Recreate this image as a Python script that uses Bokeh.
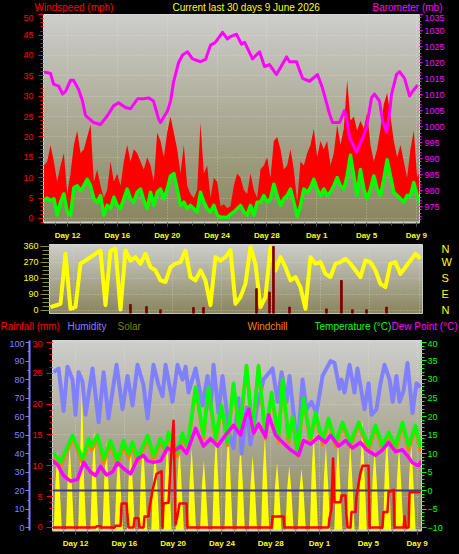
import numpy as np
from bokeh.plotting import figure
from bokeh.models import Range1d, LinearAxis, SingleIntervalTicker, FixedTicker
from bokeh.core.properties import value
from bokeh.embed import file_html
from bokeh.resources import INLINE

# ---------------- data ----------------
# x axis: days counted from 12 May 00:00
DAY_TICKS = [0, 4, 8, 12, 16, 20, 24, 28]
DAY_LABELS = ["Day 12", "Day 16", "Day 20", "Day 24", "Day 28", "Day 1", "Day 5", "Day 9"]
DAY_MINOR = list(range(-1, 29))

# wind speed (mph), regular sampling
WIND_START_DAY = -1.90
WIND_STEP_DAY = 0.2675
wind_gust = [13, 14, 18, 14, 9, 13, 16, 6, 11, 18, 21.5, 16, 17, 20, 23, 9, 12, 8, 5, 7,
             14, 9, 11, 8, 14, 18, 14, 17, 16, 14, 12, 15, 13, 9, 21, 19, 15, 21, 25, 21,
             17, 11, 18, 8, 6, 5, 7, 23.5, 11, 13, 5, 10, 9, 3, 3.5, 2.5,
             3, 8, 11, 10, 7, 6, 11, 7, 5, 12, 13, 15, 10, 19, 20, 17, 12, 13, 17, 12,
             4, 14, 13, 16, 18, 22, 15, 19, 17, 19, 13, 16, 23, 18, 22, 34, 24, 25, 21.6, 24,
             22, 26, 18, 14, 17, 22, 28, 30.8, 25, 19, 15, 18, 14, 10, 17, 21.6, 10, 12]
wind_avg = [4.4, 5, 4.4, 4.8, 0.8, 4, 6, 1.6, 0.8, 7.5, 8, 6.8, 8, 9.6, 8, 4.8, 4, 5.6, 0.8, 3.2,
            2.4, 5.2, 3.2, 2.4, 4.8, 7.2, 4.8, 4, 6.4, 7.2, 4.4, 2.4, 6.4, 3.2, 6.4, 7.2, 4.8, 7.2, 10.4, 11,
            7.2, 3.2, 4, 2.4, 3.2, 2.4, 1.6, 6.4, 4, 2.4, 1.6, 3.2, 0.8, 0.3, 0.3, 0.2,
            1, 1.6, 2.4, 3.2, 1.6, 0.8, 3.2, 0.8, 4, 4, 5.6, 4, 4.8, 8.4, 5.6, 3.2, 4.8, 5.6, 7.2, 4,
            0.5, 3.2, 7.2, 6.4, 7.5, 9.6, 7.2, 5.6, 7.2, 5.6, 6.4, 8, 10, 8, 7.2, 10.4, 15.5, 10.4, 5.6, 12,
            7.2, 4.8, 7.2, 10.4, 7.2, 5.6, 9.6, 14.4, 10.4, 6.4, 5.6, 4.8, 4, 5.6, 5.6, 8.8, 5.6, 3.6]

# barometer (mb)
baro_day = [-1.93, -1.77, -1.36, -1.12, -0.72, -0.40, -0.16, 0.24, 0.48, 0.88, 1.20, 1.44, 2.09, 2.65,
            3.21, 3.45, 3.69, 4.09, 4.65, 5.06, 5.62, 6.10, 6.50, 6.90, 7.30, 7.46, 8.03, 8.27, 8.51,
            8.91, 9.23, 9.63, 10.03, 10.67, 11.08, 11.48, 11.88, 12.44, 12.84, 13.00, 13.56, 13.96,
            14.21, 14.85, 15.41, 15.81, 16.21, 16.77, 17.58, 17.82, 18.38, 18.86, 19.42, 20.06, 20.47,
            21.03, 21.27, 21.83, 22.23, 22.39, 22.63, 23.19, 23.68, 24.00, 24.40, 24.64, 25.04, 25.28,
            25.60, 25.84, 26.00, 26.40, 26.65, 27.05, 27.45, 27.69, 28.09]
baro_mb = [1017, 1017, 1016.6, 1013.3, 1012.7, 1010.2, 1011, 1014.5, 1014.5, 1011.7, 1008, 1003.5, 1001.3, 1000.7,
           1003.5, 1005, 1006.5, 1007.5, 1006, 1005.6, 1008.7, 1008.7, 1009, 1008, 1002.5, 1001.3, 1005, 1008, 1014,
           1020, 1022.4, 1023.4, 1021.2, 1020.3, 1021, 1025.5, 1026.4, 1029.5, 1027.4, 1028, 1028.9, 1025.8,
           1026.4, 1021.2, 1023.4, 1018.8, 1019.4, 1016.3, 1021.8, 1020.3, 1020.3, 1015.1, 1014.2, 1016.3, 1012,
           1004, 1001.3, 1001.3, 1005, 1003, 996.7, 992, 996.4, 999.8, 1009, 1010.2, 1008, 1002,
           998.3, 1004, 1010, 1016.3, 1017.2, 1015.1, 1009.6, 1011, 1013]

# wind direction (degrees), regular sampling
DIR_START_DAY = -1.85
DIR_STEP_DAY = 0.4045
wind_dir = [19, 28, 37, 319, 9, 19, 263, 281, 300, 319, 337, 30, 337, 347, 5, 337, 281, 300, 263, 319,
            244, 226, 169, 160, 244, 263, 272, 337, 188, 169, 226, 169, 30, 300, 281, 300,
            340, 37, 75, 150, 356, 263, 19, 75, 356, 225, 300, 244, 169, 188, 131, 10, 300, 263, 272, 206,
            188, 263, 272, 291, 263, 226, 188, 281, 272, 226, 150, 131, 263, 272, 206, 244, 281, 319, 291]
# dark red bars in the direction panel
dirbar_day = [4.62, 5.92, 7.05, 9.72, 10.53, 14.82, 15.87, 16.19, 17.49, 20.48, 21.69, 22.58, 23.72, 25.34]
dirbar_val = [34, 22, 4, 17, 17, 122, 103, 360, 19, 9, 169, 4, 4, 19]
DIR_TICKS = [0, 90, 180, 270, 360]
DIR_NAMES = ["N", "E", "S", "W", "N"]

# solar: per day readings (morning, midday peak, afternoon), night = 0
solar_days = list(range(-2, 28))
SOLAR_HOURS = [5.0, 8.4, 12.5, 16.8, 21.1]
solar_am = [250, 270, 300, 280, 260, 240, 270, 280, 260, 290, 270, 260, 230, 300, 310, 280, 250, 300, 230, 220,
            210, 300, 270, 280, 270, 320, 270, 300, 270, 280]
solar_peak = [420, 447, 800, 537, 474, 421, 447, 474, 447, 474, 447, 432, 368, 500, 537, 447, 395, 500, 358, 342,
              326, 516, 447, 463, 463, 589, 432, 516, 447, 463]
solar_pm = [230, 240, 260, 250, 240, 220, 230, 260, 240, 250, 230, 240, 200, 270, 280, 260, 230, 260, 210, 200,
            200, 270, 250, 240, 250, 280, 250, 270, 240, 250]

# humidity (%)
hum_day = [-1.80, -1.39, -0.98, -0.66, -0.25, 0.00, 0.25, 0.57, 0.82, 1.39, 1.89, 2.30, 2.70, 3.36, 3.85, 4.26,
           4.67, 5.08, 5.57, 5.90, 6.39, 6.80, 7.13, 7.38, 7.95, 8.36, 8.77, 9.02, 9.26, 9.84, 10.41, 10.82,
           11.07, 11.31, 11.72, 12.05, 12.62, 12.95, 13.36, 13.61, 14.02, 14.34, 14.84, 15.41, 16.15, 16.56,
           16.89, 17.30, 17.54, 18.20, 18.61, 18.93, 19.34, 19.75, 20.25, 20.90, 21.23, 21.64, 21.80, 22.05,
           22.46, 22.87, 23.11, 23.69, 24.02, 24.26, 24.67, 25.00, 25.33, 25.74, 26.00, 26.31, 26.56, 26.89,
           27.21, 27.62, 27.95, 28.28]
hum_val = [84, 86, 63, 87, 80, 61, 84, 79, 61, 86, 57, 84, 59, 88, 64, 82, 66, 88, 77, 59, 88, 77, 71, 88, 68,
           88, 80, 87, 73, 86, 66, 82, 64, 88, 62, 82, 50, 43, 70, 40, 65, 45, 64, 80, 86, 68, 84, 68, 82, 42,
           80, 64, 68, 62, 82, 90, 89, 75, 80, 73, 88, 73, 86, 64, 78, 61, 64, 78, 88, 80, 68, 82, 68, 74, 89,
           62, 78, 76]

# temperature and windchill (deg C), same reading times
temp_day = [-1.89, -1.64, -1.23, -0.25, 0.57, 1.07, 1.31, 1.80, 2.30, 2.87, 3.44, 3.93, 4.34, 4.67, 5.08, 5.90,
            6.39, 6.97, 7.38, 7.62, 8.36, 8.77, 9.18, 9.84, 10.49, 10.90, 11.48, 11.97, 12.46, 12.95, 13.44,
            14.02, 14.51, 15.00, 15.57, 16.07, 16.64, 16.97, 17.46, 17.79, 18.20, 18.69, 19.26, 19.67, 20.25,
            20.74, 21.31, 21.89, 22.54, 23.20, 24.02, 24.59, 25.16, 25.66, 26.23, 26.80, 27.30, 27.87, 28.28]
temp_val = [10.3, 9.5, 7.6, 14.9, 8.6, 14, 12, 14.9, 8.6, 13.5, 8, 13.5, 10, 13.1, 8.6, 14.9, 9.5, 14, 11.4, 15.7,
            10.5, 15.5, 12, 28, 15, 28, 14, 23, 13, 29, 15.7, 33.8, 16, 33.8, 15, 26.5, 14, 30, 14, 20,
            10.3, 25, 14, 21, 13.5, 19.5, 13, 18.4, 13, 18.4, 12.2, 17.6, 12.2, 15.7, 12.2, 18.4, 12.2, 17.6, 11.5]
chill_val = [9.5, 8.5, 6.5, 14.2, 7.4, 13.2, 11, 14, 7.4, 12.6, 6.8, 12.6, 8.8, 12.2, 7.4, 14, 8.3, 13.2, 10.2, 15,
             9.3, 14.8, 11, 27.5, 14.2, 27.5, 13.2, 22.5, 12.2, 28.5, 15, 33.5, 15.4, 33.5, 14, 26, 13, 29.5, 13, 19.5,
             9.4, 24.5, 13, 20.4, 12.4, 19, 12, 17.8, 12, 17.8, 11, 17, 11, 15.2, 11, 17.8, 11, 17, 10.4]

# dew point (deg C)
dew_day = [-1.89, -1.48, -0.98, -0.41, 0.16, 0.66, 1.23, 1.64, 2.05, 2.54, 3.03, 3.44, 3.93, 4.51, 5.08, 5.57,
           5.90, 6.39, 6.97, 7.54, 8.03, 8.61, 9.10, 9.84, 10.49, 11.07, 11.64, 12.30, 12.95, 13.52, 13.93,
           14.20, 14.60, 15.00, 15.57, 15.82, 16.39, 16.97, 17.62, 18.28, 18.69, 19.26, 19.92, 20.49, 20.90,
           21.56, 22.13, 22.70, 23.36, 23.85, 24.59, 25.16, 25.66, 26.23, 26.80, 27.30, 27.62, 28.11, 28.36]
dew_val = [8, 7, 4, 2.5, 3, 7.6, 5, 4, 6.5, 4.2, 5, 7.5, 6, 4.5, 8.5, 9.5, 8, 7.6, 8, 11.5, 10.5, 12, 10, 16.8,
           12, 14, 12, 15, 17.6, 15, 20, 22, 15.5, 18, 14.5, 20.5, 15, 13, 11, 9.5, 13.5, 12.5, 14.5, 13, 14.9,
           12, 13.5, 11.5, 13, 11, 9.5, 11, 13, 10.5, 11, 9, 7.5, 6.7, 8]

# rainfall (mm)
rain_day = [-1.89, 1.64, 1.72, 2.05, 2.13, 3.20, 3.28, 3.69, 3.77, 4.18, 4.34, 4.75, 4.84, 5.16, 5.25, 5.57,
            5.66, 5.98, 6.07, 6.31, 6.64, 7.05, 7.13, 7.21, 7.62, 7.79, 8.03, 8.20, 8.36, 8.52, 9.10, 9.18,
            16.07, 16.15, 17.05, 17.13, 20.74, 20.82, 20.98, 21.11, 21.23, 21.72, 21.80, 22.13, 22.21, 22.30,
            22.54, 22.62, 22.95, 23.03, 23.34, 23.52, 24.02, 24.10, 25.16, 25.25, 25.57, 25.66, 26.07, 26.15,
            26.89, 26.97, 27.05, 27.30, 27.38, 28.11, 28.28]
rain_mm = [0, 0, 0.2, 0.2, 0, 0, 0.3, 0.3, 3.9, 3.9, 0, 0, 1.5, 1.5, 0, 0, 1.8, 1.8, 3.3, 6, 8.7, 9.1, 0, 3.9,
           4, 10, 17.3, 0.5, 1.9, 3.9, 3.9, 0, 0, 1.8, 1.8, 0, 0, 1.5, 3, 11.2, 4.1, 4.1, 5.2, 5.2, 2, 0, 0,
           2.5, 2.5, 5, 8.7, 10, 10, 0, 0, 2.5, 2.5, 5.7, 6.1, 0, 0, 1.8, 0, 0, 5.7, 5.7, 5.7]

# header texts
TOP_TITLES = ["Windspeed (mph)", "Current last 30 days 9 June 2026", "Barometer (mb)"]
TOP_COLORS = ["#ff0000", "#ffff00", "#ff00ff"]
LOW_TITLES = ["Rainfall (mm)", "Humidity", "Solar", "Windchill", "Temperature (°C)", "Dew Point (°C)"]
LOW_COLORS = ["#ff0000", "#8080ff", "#808000", "#ff8000", "#00ff00", "#ff00ff"]

# ---------------- styling helpers ----------------
FONT = "Liberation Sans"
W = 459


def gradient_image():
    n = 256
    top = np.array([206, 206, 204], dtype=float)
    bot = np.array([138, 134, 94], dtype=float)
    f = np.linspace(0.0, 1.0, n)[:, None]
    rgb = bot + (top - bot) * f
    img = np.zeros((n, 2), dtype=np.uint32)
    v = img.view(dtype=np.uint8).reshape((n, 2, 4))
    for c in range(3):
        v[:, :, c] = rgb[:, c:c + 1].astype(np.uint8)
    v[:, :, 3] = 255
    return img


GRAD = gradient_image()


def make_fig(h, xr, yr, left, right, top, bottom, **kw):
    p = figure(width=W, height=h, x_range=xr, y_range=yr, output_backend="svg", toolbar_location=None,
               min_border_left=left, min_border_right=right, min_border_top=top, min_border_bottom=bottom,
               border_fill_color="black", background_fill_color="#a8a68a",
               outline_line_color="#d8d8d8", outline_line_width=1, **kw)
    p.image_rgba(image=[GRAD], x=xr.start, y=yr.start, dw=xr.end - xr.start, dh=yr.end - yr.start, level="image")
    p.xgrid.ticker = FixedTicker(ticks=DAY_TICKS)
    for g in (p.xgrid, p.ygrid):
        g.grid_line_color = "#eeeeee"
        g.grid_line_alpha = 0.45
        g.grid_line_dash = "1 2"
    return p


def header(h, xs, middle_from_top, texts, colors):
    hp = figure(width=W, height=h, x_range=Range1d(0, W), y_range=Range1d(0, h), output_backend="svg",
                toolbar_location=None, min_border=0, x_axis_location=None, y_axis_location=None,
                border_fill_color="black", background_fill_color="black", outline_line_color=None)
    hp.grid.visible = False
    hp.text(x=xs, y=[h - middle_from_top] * len(texts), text=texts, text_color=colors,
            text_font=value(FONT), text_font_size="10px", text_baseline="middle", text_align="left")
    return hp


def style_axis(ax, color, tick_out, minor_out, standoff, size="9px"):
    ax.major_label_text_color = color
    ax.major_label_text_font = FONT
    ax.major_label_text_font_size = size
    ax.major_tick_line_color = color
    ax.minor_tick_line_color = color
    ax.major_tick_in = 0
    ax.minor_tick_in = 0
    ax.major_tick_out = tick_out
    ax.minor_tick_out = minor_out
    ax.major_label_standoff = standoff
    ax.axis_line_color = "#d0d0d0"
    ax.axis_line_width = 1


def style_xaxis(ax):
    ax.ticker = FixedTicker(ticks=DAY_TICKS, minor_ticks=DAY_MINOR)
    ax.major_label_overrides = {t: l for t, l in zip(DAY_TICKS, DAY_LABELS)}
    ax.major_label_text_color = "#ffff00"
    ax.major_label_text_font = FONT
    ax.major_label_text_font_size = "8px"
    ax.major_label_text_font_style = "bold"
    ax.major_tick_line_color = "#5a5a40"
    ax.minor_tick_line_color = "#5a5a40"
    ax.major_tick_in = 0
    ax.minor_tick_in = 0
    ax.major_tick_out = 4
    ax.minor_tick_out = 3
    ax.major_label_standoff = 4
    ax.axis_line_color = "#d0d0d0"
    ax.axis_line_width = 2


# ---------------- header of panel 1 ----------------
hdr1 = header(14, [34, 172, 372], 6.9, TOP_TITLES, TOP_COLORS)

# ---------------- panel 1: wind speed + barometer ----------------
p1 = make_fig(228, Range1d(-1.93, 28.25), Range1d(-1, 50.05), 43, 40, 0, 18)
p1.extra_y_ranges = {"baro": Range1d(970.05, 1035.06)}
wind_t = [WIND_START_DAY + i * WIND_STEP_DAY for i in range(len(wind_gust))]
p1.varea(x=wind_t, y1=wind_avg, y2=wind_gust, fill_color="#ff0000")
p1.line(x=wind_t, y=wind_avg, line_color="#00ff00", line_width=3.5, line_join="round")
p1.line(x=baro_day, y=baro_mb, y_range_name="baro", line_color="#ff00ff", line_width=3, line_join="round")

lax = p1.yaxis[0]
lax.ticker = SingleIntervalTicker(interval=5, num_minor_ticks=5)
style_axis(lax, "#ff0000", 5, 3, 5)
rax = LinearAxis(y_range_name="baro", ticker=SingleIntervalTicker(interval=5, num_minor_ticks=5))
style_axis(rax, "#ff00ff", 3, 2, 2)
p1.add_layout(rax, "right")
style_xaxis(p1.xaxis[0])

# ---------------- panel 2: wind direction ----------------
p2 = make_fig(76, Range1d(-1.93, 28.25), Range1d(-17, 371), 49, 37, 2, 5, x_axis_location=None)
p2.ygrid.ticker = FixedTicker(ticks=DIR_TICKS)
dir_t = [DIR_START_DAY + i * DIR_STEP_DAY for i in range(len(wind_dir))]
p2.line(x=dir_t, y=wind_dir, line_color="#ffff00", line_width=4, line_join="round")
p2.vbar(x=dirbar_day, top=dirbar_val, bottom=p2.y_range.start, width=0.13, fill_color="#800000",
        line_color="#800000")
dax = p2.yaxis[0]
dax.ticker = SingleIntervalTicker(interval=90, num_minor_ticks=4)
style_axis(dax, "#ffff00", 9, 7, 2)
dax.major_tick_line_color = "#8a8a30"
dax.minor_tick_line_color = "#8a8a30"
nax = LinearAxis(ticker=FixedTicker(ticks=DIR_TICKS))
nax.major_label_overrides = {t: n for t, n in zip(DIR_TICKS, DIR_NAMES)}
nax.major_label_text_color = "#ffff00"
nax.major_label_text_font = FONT
nax.major_label_text_font_size = "11px"
nax.major_tick_line_color = None
nax.minor_tick_line_color = None
nax.axis_line_color = None
nax.major_label_standoff = 13
p2.add_layout(nax, "right")

# ---------------- header of panel 3 ----------------
hdr3 = header(22, [0, 67, 117, 247, 314, 391], 8.0, LOW_TITLES, LOW_COLORS)

# ---------------- panel 3: rain, humidity, solar, temperatures ----------------
p3 = make_fig(214, Range1d(-1.89, 28.36), Range1d(-0.49, 30.32), 52, 38, 0, 24)
p3.extra_y_ranges = {"hum": Range1d(-1.4, 101.1), "temp": Range1d(-10.81, 40.54), "solar": Range1d(0, 1000)}

solar_t, solar_v = [], []
for d, a, pk, pm in zip(solar_days, solar_am, solar_peak, solar_pm):
    for h, v in zip(SOLAR_HOURS, [0, a, pk, pm, 0]):
        solar_t.append(d + h / 24.0)
        solar_v.append(v)
p3.varea(x=solar_t, y1=0, y2=solar_v, y_range_name="solar", fill_color="#ffff00")
p3.hspan(y=[0], y_range_name="temp", line_color="#3c3c78", line_width=2)
p3.line(x=hum_day, y=hum_val, y_range_name="hum", line_color="#8080ff", line_width=4, line_join="round")
p3.line(x=temp_day, y=chill_val, y_range_name="temp", line_color="#ff8000", line_width=3.5, line_join="round")
p3.line(x=temp_day, y=temp_val, y_range_name="temp", line_color="#00ff00", line_width=3.5, line_join="round")
p3.line(x=dew_day, y=dew_val, y_range_name="temp", line_color="#ff00ff", line_width=3.5, line_join="round")
p3.line(x=rain_day, y=rain_mm, line_color="#ff0000", line_width=2.5, line_join="round")

rain_ax = p3.yaxis[0]
rain_ax.ticker = SingleIntervalTicker(interval=5, num_minor_ticks=5)
style_axis(rain_ax, "#ff0000", 6, 3, 4)
hum_ax = LinearAxis(y_range_name="hum", ticker=SingleIntervalTicker(interval=10, num_minor_ticks=2))
style_axis(hum_ax, "#8080ff", 4, 2, 1)
hum_ax.axis_line_color = "#8080ff"
hum_ax.axis_line_width = 2
p3.add_layout(hum_ax, "left")
tax = LinearAxis(y_range_name="temp", ticker=SingleIntervalTicker(interval=5, num_minor_ticks=5))
style_axis(tax, "#00ff00", 5, 3, 1)
p3.add_layout(tax, "right")
style_xaxis(p3.xaxis[0])

html = file_html([hdr1, p1, p2, hdr3, p3], INLINE)
html = html.replace("<head>", "<head><style>html,body{margin:0;padding:0;background:#000;line-height:0;}</style>", 1)
open("out.html", "w").write(html)
